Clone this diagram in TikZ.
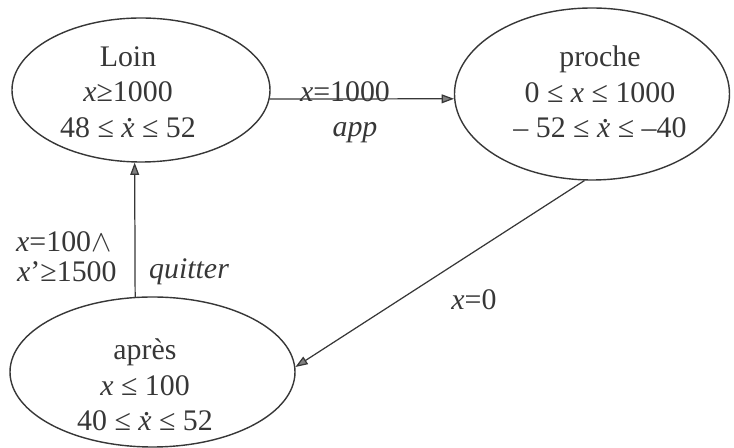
\documentclass[tikz,border=0pt]{standalone}
\usepackage{fontspec}
\setmainfont{Liberation Serif}
\usepackage{tikz}
\usetikzlibrary{arrows.meta, shapes.geometric}
\definecolor{inkgray}{RGB}{55,55,55}
\newcommand{\xdot}{\textit{x\kern-0.27em\smash{\raisebox{0.52em}{.}}\kern0.02em}}

\begin{document}
\begin{tikzpicture}[>={Triangle[length=7pt,width=5pt,fill=gray]},
  every node/.style={font=\fontsize{17}{20.2}\selectfont, text=inkgray},
  state/.style={ellipse, draw=inkgray, line width=0.8pt, inner sep=0pt},
  trans/.style={->, draw=inkgray, line width=0.7pt}]
\useasboundingbox (0,0) rectangle (14.68,-8.96);
% states
\node[state, minimum width=5.16cm, minimum height=2.88cm] (loin) at (2.82,-1.80) {};
\node[state, minimum width=5.50cm, minimum height=3.44cm] (proche) at (11.84,-1.88) {};
\node[state, minimum width=5.70cm, minimum height=3.00cm] (apres) at (3.05,-7.44) {};
\node[align=center] (loinT) at (2.56,-1.84) {Loin\\\textit{x}≥1000\\48 ≤ \xdot{} ≤ 52};
\node[align=center] (procheT) at (12.0,-1.84) {proche\\0 ≤ \textit{x} ≤ 1000\\– 52 ≤ \xdot{} ≤ –40};
\node[align=center] (apresT) at (2.9,-7.7) {après\\\textit{x} ≤ 100\\40 ≤ \xdot{} ≤ 52};
% transitions
\draw[trans] (loin.-4) -- (proche.182);
\draw[trans] (proche.265) -- (apres.2);
\draw[trans] (apres.103) -- (loin.265);
% labels
\node (g1) at (6.9,-1.84) {\textit{x}=1000};
\node (a1) at (7.1,-2.66) {\textit{app}};
\node[anchor=west] (g2a) at (0.2,-4.84) {\textit{x}=100$\wedge$};
\node[anchor=west] (g2b) at (0.22,-5.44) {\textit{x}’≥1500};
\node[anchor=west] (a2) at (2.86,-5.44) {\textit{quitter}};
\node (g3) at (9.48,-6.0) {\textit{x}=0};
\end{tikzpicture}
\end{document}
